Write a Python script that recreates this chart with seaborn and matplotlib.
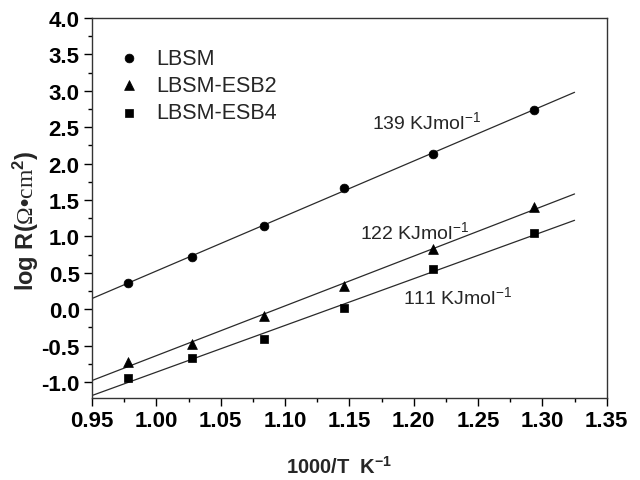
import numpy as np
import pandas as pd
import matplotlib
matplotlib.use("Agg")
import matplotlib.pyplot as plt
import seaborn as sns

sns.set_theme(style="ticks")
plt.rcParams['font.family'] = ['Liberation Sans', 'DejaVu Sans']
plt.rcParams['mathtext.fontset'] = 'custom'
plt.rcParams['mathtext.default'] = 'regular'
plt.rcParams['mathtext.rm'] = 'Liberation Serif'
plt.rcParams['mathtext.bf'] = 'Liberation Sans:bold'

# Data
x_vals = [0.9775, 1.0277, 1.0834, 1.1455, 1.2151, 1.2937]
lbsm = [0.36, 0.72, 1.14, 1.67, 2.13, 2.74]
esb2 = [-0.73, -0.48, -0.09, 0.32, 0.82, 1.41]
esb4 = [-0.95, -0.67, -0.41, 0.01, 0.55, 1.05]
series_names = ["LBSM", "LBSM-ESB2", "LBSM-ESB4"]
energies = ["139 KJmol$^{-1}$", "122 KJmol$^{-1}$", "111 KJmol$^{-1}$"]
x_ticks = [0.95, 1.00, 1.05, 1.10, 1.15, 1.20, 1.25, 1.30, 1.35]
y_ticks = [-1.0, -0.5, 0.0, 0.5, 1.0, 1.5, 2.0, 2.5, 3.0, 3.5, 4.0]

df = pd.DataFrame({
    "x": x_vals * 3,
    "y": lbsm + esb2 + esb4,
    "series": sum([[n] * len(x_vals) for n in series_names], []),
})

fig = plt.figure(figsize=(6.4, 4.81), dpi=100)
ax = fig.add_axes([0.144, 0.1705, 0.804, 0.79])

# fitted lines
fit_x = np.array([0.95, 1.325])
for name in series_names:
    sub = df[df.series == name]
    k, b = np.polyfit(sub.x, sub.y, 1)
    ax.plot(fit_x, k * fit_x + b, color="#2a2a2a", lw=0.9, zorder=1)

markers = {"LBSM": "o", "LBSM-ESB2": "^", "LBSM-ESB4": "s"}
sizes = {"LBSM": 40, "LBSM-ESB2": 50, "LBSM-ESB4": 30}
for name in series_names:
    sub = df[df.series == name]
    sns.scatterplot(data=sub, x="x", y="y", marker=markers[name], s=sizes[name],
                    color="black", edgecolor="black", linewidth=0.5, ax=ax,
                    label=name, zorder=3)

ax.set_xlim(0.95, 1.35)
ax.set_ylim(-1.22, 4.0)
ax.set_xticks(x_ticks)
ax.set_yticks(y_ticks)
ax.set_xticklabels([f"{t:.2f}" for t in x_ticks], fontsize=16, fontweight="bold")
ax.set_yticklabels([f"{t:.1f}" for t in y_ticks], fontsize=16, fontweight="bold")
ax.xaxis.set_minor_locator(matplotlib.ticker.MultipleLocator(0.025))
ax.yaxis.set_minor_locator(matplotlib.ticker.MultipleLocator(0.25))
ax.tick_params(which="major", direction="out", length=6, width=1, colors="black", pad=3)
ax.tick_params(which="minor", direction="out", length=3, width=1, colors="black")
ax.tick_params(top=False, right=False, which="both")
for s in ax.spines.values():
    s.set_color("#333333")
    s.set_linewidth(1.0)

ax.set_xlabel(r"1000/T  K$^{\mathbf{-1}}$", fontsize=14.5, fontweight="bold")
ax.xaxis.set_label_coords(0.48, -0.15)
ax.set_ylabel(r"log R($\mathrm{\Omega}$•$\mathrm{cm}^{\mathbf{2}}$)", fontsize=17, fontweight="bold")
ax.yaxis.set_label_coords(-0.10, 0.47)

leg = ax.legend(loc="upper left", bbox_to_anchor=(0.025, 0.945), frameon=False,
                fontsize=15.5, handletextpad=0.6, labelspacing=0.3, borderaxespad=0,
                handlelength=1.4)

ax.text(1.1675, 2.58, energies[0], fontsize=14, ha="left", va="center")
ax.text(1.158, 1.07, energies[1], fontsize=14, ha="left", va="center")
ax.text(1.1915, 0.18, energies[2], fontsize=14, ha="left", va="center")

fig.savefig("out.png", dpi=100)
